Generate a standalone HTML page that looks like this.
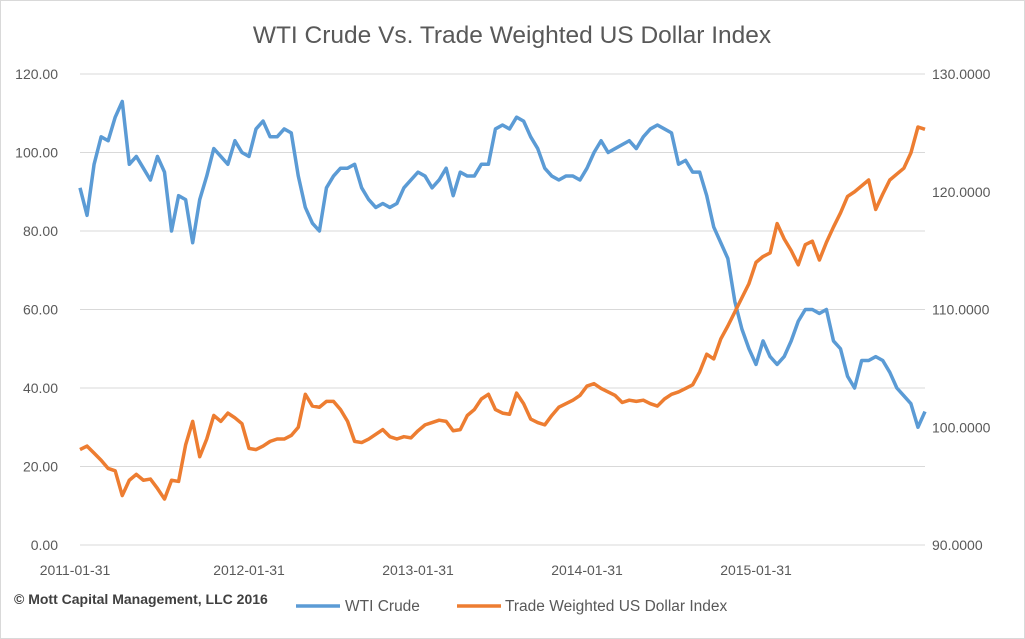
<!DOCTYPE html>
<html><head><meta charset="utf-8"><style>
body{margin:0;background:#fff}
svg{display:block;font-family:"Liberation Sans",Arial,sans-serif}
</style></head><body>
<svg id="chart" width="1025" height="639" xmlns="http://www.w3.org/2000/svg">
<rect x="0.5" y="0.5" width="1024" height="638" fill="#fff" stroke="#d9d9d9"/>
<text x="512" y="43" text-anchor="middle" font-size="24.5" fill="#595959">WTI Crude Vs. Trade Weighted US Dollar Index</text>
<g id="grid"></g>
<g id="ticks"></g>
<g id="series"></g>
<text x="14" y="604" font-size="14" font-weight="bold" fill="#404040">© Mott Capital Management, LLC 2016</text>
<g>
<g><line x1="296" y1="606" x2="340" y2="606" stroke="#5b9bd5" stroke-width="3.5"/><text x="345" y="611" font-size="15.5" fill="#595959">WTI Crude</text></g>
<g><line x1="457" y1="606" x2="501" y2="606" stroke="#ed7d31" stroke-width="3.5"/><text x="505" y="611" font-size="15.5" fill="#595959">Trade Weighted US Dollar Index</text></g>
</g>
</svg>
<script>
const xLabels=["2011-01-31","2012-01-31","2013-01-31","2014-01-31","2015-01-31"];
const xLabelPeriods=[0,24,48,72,96];
const leftTicks=[0,20,40,60,80,100,120];
const rightTicks=[90,100,110,120,130];
const wti=[91,84,97,104,103,109,113,97,99,96,93,99,95,80,89,88,77,88,94,101,99,97,103,100,99,106,108,104,104,106,105,94,86,82,80,91,94,96,96,97,91,88,86,87,86,87,91,93,95,94,91,93,96,89,95,94,94,97,97,106,107,106,109,108,104,101,96,94,93,94,94,93,96,100,103,100,101,102,103,101,104,106,107,106,105,97,98,95,95,89,81,77,73,62,55,50,46,52,48,46,48,52,57,60,60,59,60,52,50,43,40,47,47,48,47,44,40,38,36,30,34];
const usd=[98.1,98.4,97.8,97.2,96.5,96.3,94.2,95.5,96,95.5,95.6,94.8,93.9,95.5,95.4,98.5,100.5,97.5,99,101,100.5,101.2,100.8,100.3,98.2,98.1,98.4,98.8,99,99,99.3,100,102.8,101.8,101.7,102.2,102.2,101.5,100.5,98.8,98.7,99,99.4,99.8,99.2,99,99.2,99.1,99.7,100.2,100.4,100.6,100.5,99.7,99.8,101,101.5,102.4,102.8,101.5,101.2,101.1,102.9,102,100.7,100.4,100.2,101,101.7,102,102.3,102.7,103.5,103.7,103.3,103,102.7,102.1,102.3,102.2,102.3,102,101.8,102.4,102.8,103,103.3,103.6,104.7,106.2,105.8,107.5,108.6,109.8,111,112.2,114,114.5,114.8,117.3,116,115,113.8,115.5,115.8,114.2,115.7,117,118.2,119.6,120,120.5,121,118.5,119.8,121,121.5,122,123.3,125.5,125.3];
const NS="http://www.w3.org/2000/svg";
const X0=80,X1=925,Y0=545,Y1=74,NP=120;
const x=k=>X0+(X1-X0)*k/NP;
const yL=v=>Y0-(Y0-Y1)*v/120;
const yR=v=>Y0-(Y0-Y1)*(v-90)/40;
function mk(t,a,p){const e=document.createElementNS(NS,t);for(const k in a)e.setAttribute(k,a[k]);p.appendChild(e);return e;}
const grid=document.getElementById('grid'),ticks=document.getElementById('ticks'),series=document.getElementById('series');
leftTicks.forEach(v=>{
 const l=mk('line',{x1:X0,x2:X1,y1:yL(v),y2:yL(v),stroke:'#d9d9d9','stroke-width':1},grid);
 
 
 const t=mk('text',{x:58,y:yL(v)+5,'text-anchor':'end','font-size':14,fill:'#595959'},ticks);t.textContent=v.toFixed(2);
 
 
});
rightTicks.forEach(v=>{
 const t=mk('text',{x:932,y:yR(v)+5,'font-size':14,fill:'#595959'},ticks);t.textContent=v.toFixed(4);
 
 
});
xLabels.forEach((s,i)=>{
 const t=mk('text',{x:i===0?75:x(xLabelPeriods[i]),y:575,'text-anchor':'middle','font-size':14,fill:'#595959'},ticks);t.textContent=s;
 
 
});
const pw=mk('polyline',{points:wti.map((v,i)=>x(i)+','+yL(v)).join(' '),fill:'none',stroke:'#5b9bd5','stroke-width':3.5,'stroke-linejoin':'round'},series);


const pu=mk('polyline',{points:usd.map((v,i)=>x(i)+','+yR(v)).join(' '),fill:'none',stroke:'#ed7d31','stroke-width':3.5,'stroke-linejoin':'round'},series);


</script>
</body></html>
